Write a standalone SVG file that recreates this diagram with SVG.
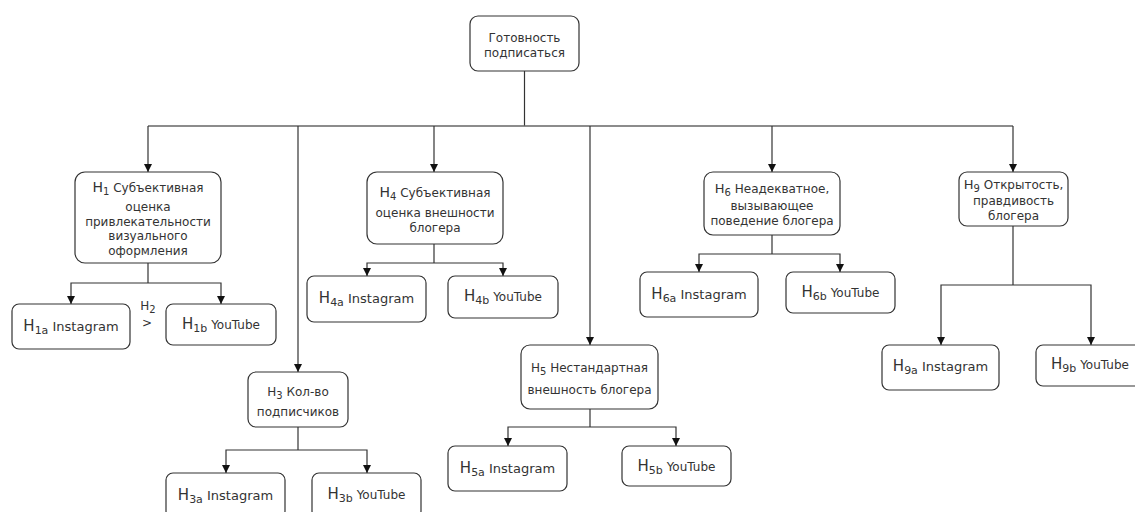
<svg xmlns="http://www.w3.org/2000/svg" width="1135" height="512" viewBox="0 0 1135 512">
<defs>
<marker id="arr" viewBox="0 0 8 8" refX="8" refY="4" markerWidth="8" markerHeight="8" markerUnits="userSpaceOnUse" orient="auto">
<path d="M0,0 L8,4 L0,8 z" fill="#111"/>
</marker>
<style>
.box{fill:#fff;stroke:#333;stroke-width:1.2}
.t{font-family:"DejaVu Sans",Verdana,sans-serif;font-size:12px;fill:#333;text-anchor:middle}
.c{fill:none;stroke:#333;stroke-width:1.2}
.a{fill:none;stroke:#333;stroke-width:1.2;marker-end:url(#arr)}
.H{font-size:14px}
.s{font-size:10px}
.L{font-size:13px}
</style>
</defs>
<rect width="1135" height="512" fill="#fff"/>
<g id="connectors">
<path class="c" d="M524.5,71 V126"/>
<path class="c" d="M148,126 H1013" style="stroke:#666;stroke-width:1.6"/>
<path class="a" d="M148,126 V172"/>
<path class="a" d="M298,126 V372"/>
<path class="a" d="M434,126 V172"/>
<path class="a" d="M590,126 V345"/>
<path class="a" d="M772,126 V172"/>
<path class="a" d="M1013,126 V172"/>
<path class="c" d="M148,263 V283"/>
<path class="a" d="M148,283 H71 V304"/>
<path class="a" d="M148,283 H221 V304"/>
<path class="c" d="M298,427 V450"/>
<path class="a" d="M298,450 H226 V473"/>
<path class="a" d="M298,450 H367 V473"/>
<path class="c" d="M434,244 V263"/>
<path class="a" d="M434,263 H367 V276"/>
<path class="a" d="M434,263 H503 V276"/>
<path class="c" d="M590,409 V427"/>
<path class="a" d="M590,427 H508 V446"/>
<path class="a" d="M590,427 H676 V446"/>
<path class="c" d="M772,235 V254"/>
<path class="a" d="M772,254 H699 V272"/>
<path class="a" d="M772,254 H840 V272"/>
<path class="c" d="M1013,226 V285"/>
<path class="a" d="M1013,285 H941 V345"/>
<path class="a" d="M1013,285 H1091 V345"/>
</g>
<g id="root">
<rect class="box" x="470" y="16" width="109" height="55" rx="8"/>
<text class="t" x="524.5" y="42">Готовность</text>
<text class="t" x="524.5" y="57">подписаться</text>
</g>
<g id="h1">
<rect class="box" x="75" y="172" width="146" height="91" rx="10"/>
<text class="t" x="148" y="192"><tspan class="H">H</tspan><tspan class="s" dy="3">1</tspan><tspan dy="-3"> Субъективная</tspan></text>
<text class="t" x="148" y="211">оценка</text>
<text class="t" x="148" y="226">привлекательности</text>
<text class="t" x="148" y="240">визуального</text>
<text class="t" x="148" y="255">оформления</text>
</g>
<g id="h1a">
<rect class="box" x="12" y="304" width="118" height="45" rx="7"/>
<text class="t L" x="71" y="331"><tspan style="font-size:15px">H</tspan><tspan class="s" style="font-size:11px" dy="3">1a</tspan><tspan dy="-3"> Instagram</tspan></text>
</g>
<g id="h2">
<text class="t" x="148" y="310">H<tspan class="s" dy="3">2</tspan></text>
<text class="t" x="147" y="327">&gt;</text>
</g>
<g id="h1b">
<rect class="box" x="166" y="304" width="110" height="41" rx="7"/>
<text class="t" x="221" y="329"><tspan style="font-size:15px">H</tspan><tspan style="font-size:11px" dy="3">1b</tspan><tspan dy="-3"> YouTube</tspan></text>
</g>
<g id="h3">
<rect class="box" x="248" y="372" width="100" height="55" rx="8"/>
<text class="t" x="298" y="396"><tspan>H</tspan><tspan class="s" dy="3">3</tspan><tspan dy="-3"> Кол-во</tspan></text>
<text class="t" x="298" y="416">подписчиков</text>
</g>
<g id="h3a">
<rect class="box" x="166" y="473" width="119" height="45" rx="7"/>
<text class="t L" x="225.5" y="500"><tspan style="font-size:15px">H</tspan><tspan style="font-size:11px" dy="3">3a</tspan><tspan dy="-3"> Instagram</tspan></text>
</g>
<g id="h3b">
<rect class="box" x="312" y="473" width="109" height="45" rx="7"/>
<text class="t" x="366.5" y="499"><tspan style="font-size:15px">H</tspan><tspan style="font-size:11px" dy="3">3b</tspan><tspan dy="-3"> YouTube</tspan></text>
</g>
<g id="h4">
<rect class="box" x="367" y="172" width="136" height="72" rx="10"/>
<text class="t" x="435" y="197"><tspan class="H">H</tspan><tspan class="s" dy="3">4</tspan><tspan dy="-3"> Субъективная</tspan></text>
<text class="t" x="435" y="217">оценка внешности</text>
<text class="t" x="435" y="232">блогера</text>
</g>
<g id="h4a">
<rect class="box" x="307" y="276" width="119" height="46" rx="7"/>
<text class="t L" x="366.5" y="303"><tspan style="font-size:15px">H</tspan><tspan style="font-size:11px" dy="3">4a</tspan><tspan dy="-3"> Instagram</tspan></text>
</g>
<g id="h4b">
<rect class="box" x="448" y="276" width="110" height="42" rx="7"/>
<text class="t" x="503" y="301"><tspan style="font-size:15px">H</tspan><tspan style="font-size:11px" dy="3">4b</tspan><tspan dy="-3"> YouTube</tspan></text>
</g>
<g id="h5">
<rect class="box" x="521" y="345" width="137" height="64" rx="9"/>
<text class="t" x="589.5" y="372"><tspan>H</tspan><tspan class="s" dy="3">5</tspan><tspan dy="-3"> Нестандартная</tspan></text>
<text class="t" x="589.5" y="394">внешность блогера</text>
</g>
<g id="h5a">
<rect class="box" x="448" y="446" width="119" height="45" rx="7"/>
<text class="t L" x="507.5" y="473"><tspan style="font-size:15px">H</tspan><tspan style="font-size:11px" dy="3">5a</tspan><tspan dy="-3"> Instagram</tspan></text>
</g>
<g id="h5b">
<rect class="box" x="622" y="446" width="109" height="40" rx="7"/>
<text class="t" x="676.5" y="471"><tspan style="font-size:15px">H</tspan><tspan style="font-size:11px" dy="3">5b</tspan><tspan dy="-3"> YouTube</tspan></text>
</g>
<g id="h6">
<rect class="box" x="704" y="172" width="136" height="63" rx="9"/>
<text class="t" x="772" y="193"><tspan style="font-size:13px">H</tspan><tspan class="s" dy="3">6</tspan><tspan dy="-3"> Неадекватное,</tspan></text>
<text class="t" x="772" y="210">вызывающее</text>
<text class="t" x="772" y="225">поведение блогера</text>
</g>
<g id="h6a">
<rect class="box" x="640" y="272" width="118" height="45" rx="7"/>
<text class="t L" x="699" y="299"><tspan style="font-size:15px">H</tspan><tspan style="font-size:11px" dy="3">6a</tspan><tspan dy="-3"> Instagram</tspan></text>
</g>
<g id="h6b">
<rect class="box" x="786" y="272" width="109" height="41" rx="7"/>
<text class="t" x="840.5" y="297"><tspan style="font-size:15px">H</tspan><tspan style="font-size:11px" dy="3">6b</tspan><tspan dy="-3"> YouTube</tspan></text>
</g>
<g id="h9">
<rect class="box" x="959" y="172" width="109" height="54" rx="8"/>
<text class="t" x="1013.5" y="189"><tspan style="font-size:13px">H</tspan><tspan class="s" dy="3">9</tspan><tspan dy="-3"> Открытость,</tspan></text>
<text class="t" x="1013.5" y="205">правдивость</text>
<text class="t" x="1013.5" y="220">блогера</text>
</g>
<g id="h9a">
<rect class="box" x="882" y="345" width="117" height="45" rx="7"/>
<text class="t L" x="940.5" y="371"><tspan style="font-size:15px">H</tspan><tspan style="font-size:11px" dy="3">9a</tspan><tspan dy="-3"> Instagram</tspan></text>
</g>
<g id="h9b">
<rect class="box" x="1036" y="345" width="110" height="41" rx="7"/>
<text class="t" x="1090" y="369"><tspan style="font-size:15px">H</tspan><tspan style="font-size:11px" dy="3">9b</tspan><tspan dy="-3"> YouTube</tspan></text>
</g>
</svg>
